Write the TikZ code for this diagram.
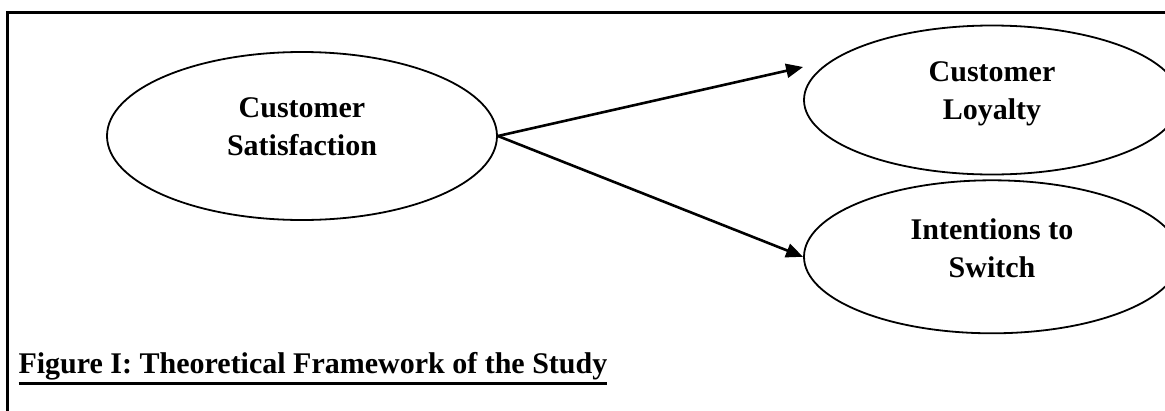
\documentclass[tikz,border=0pt]{standalone}
\usepackage{fontspec}
\setmainfont{Liberation Serif}
\usetikzlibrary{arrows.meta,positioning,shapes.geometric}
\newsavebox{\capbox}
\newcommand{\capuline}[1]{\sbox{\capbox}{#1}\rlap{\rule[-11.5pt]{\wd\capbox}{3pt}}\usebox{\capbox}}

\begin{document}
\begin{tikzpicture}[x=1pt, y=-1pt, every node/.style={font=\bfseries\fontsize{30}{38}\selectfont}, oval/.style={draw, ellipse, line width=1.8pt, inner sep=0pt, align=center}, arr/.style={-{Triangle[length=17pt,width=14pt]}, line width=2.6pt}]
\clip (0,0) rectangle (1165,410);
\draw[line width=3pt] (7,430) |- (1190,12.5);
\node[oval, minimum width=390pt, minimum height=168pt] (satisfaction) at (302,136) {Customer\\Satisfaction\\[-20pt]\mbox{}};
\node[oval, minimum width=376pt, minimum height=149pt] (loyalty) at (992,100) {Customer\\Loyalty\\[-20pt]\mbox{}};
\node[oval, minimum width=376pt, minimum height=153pt, below=4pt of loyalty] (switch) {Intentions to\\Switch\\[-20pt]\mbox{}};
\coordinate (loyaltyaim) at ([yshift=33pt]loyalty.west);
\draw[arr] (satisfaction.east)--(loyaltyaim);
\draw[arr] (satisfaction.east)--(switch.west);
\node[anchor=base west] (caption) at (15,373) {\capuline{Figure I: Theoretical Framework of the Study}};
\end{tikzpicture}
\end{document}
